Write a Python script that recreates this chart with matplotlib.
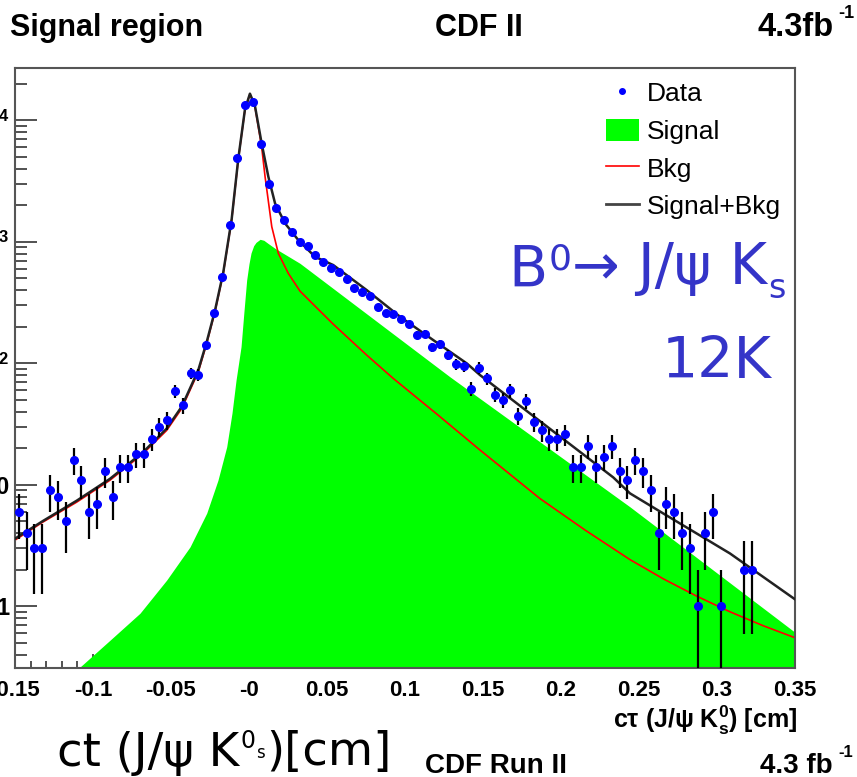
import numpy as np
import matplotlib.pyplot as plt
from matplotlib.lines import Line2D
from matplotlib.patches import Patch
from matplotlib.ticker import FixedLocator, FixedFormatter, LogLocator, NullFormatter, MultipleLocator

plt.rcParams['font.family'] = ['Liberation Sans', 'DejaVu Sans']
plt.rcParams['mathtext.default'] = 'regular'

W, H = 857, 777

# proper decay length histogram: 100 bins of 50 um between -0.15 and 0.35 cm
ct_lo, ct_hi, n_bins = -0.15, 0.35, 100
counts = np.array([
    6, 4, 3, 3, 9, 8, 5, 16, 11, 6,
    7, 13, 8, 14, 14, 18, 18, 24, 30, 34,
    59, 45, 83, 80, 141, 258, 516, 1375, 4930, 13300,
    14180, 6360, 2980, 1890, 1513, 1212, 995, 929, 773, 678,
    612, 567, 491, 414, 388, 358, 292, 261, 253, 230,
    209, 171, 174, 135, 143, 118, 98, 95, 62, 92,
    75, 55, 50, 60, 37, 49, 33, 28, 24, 24,
    26, 14, 14, 21, 14, 17, 21, 13, 11, 16,
    13, 9, 4, 7, 6, 4, 3, 1, 4, 6,
    1, 0, 0, 2, 2, 0, 0, 0, 0, 0,
])

# fit components sampled along the drawn curves
sig_ct = [-0.1094, -0.0891, -0.0699, -0.0528, -0.0378, -0.0271, -0.0199, -0.0143,
          -0.0109, -0.0083, -0.0051, -0.0032, -0.0015, 0.0000, 0.0013, 0.0030,
          0.0045, 0.0071, 0.0095, 0.0120, 0.0167, 0.0327, 0.1288, 0.2442, 0.35]
sig_val = [0.307, 0.525, 0.875, 1.64, 3.08, 5.84, 10.9, 20.5,
           38.9, 72.7, 137, 270, 484, 660, 809, 930,
           990, 1049, 1030, 975, 884, 665, 77.4, 6.58, 0.61]

bkg_ct = [-0.15, -0.1319, -0.1104, -0.0891, -0.0678, -0.0528, -0.0431, -0.0325,
          -0.0271, -0.0218, -0.0165, -0.0111, -0.0069, -0.0026, 0.0006, 0.0038,
          0.0081, 0.0103, 0.0146, 0.0188, 0.0252, 0.0327, 0.0423, 0.0540,
          0.0754, 0.0925, 0.1203, 0.1481, 0.1865, 0.2154, 0.2442, 0.2656,
          0.2870, 0.3083, 0.3297, 0.35]
bkg_val = [3.5, 4.95, 7.2, 10.9, 18.1, 28, 42.5, 85,
           146, 266, 550, 1513, 4720, 12190, 16500, 12970,
           6070, 3440, 1332, 804, 550, 393, 296, 210,
           117, 75, 38.3, 19.3, 7.7, 4.24, 2.42, 1.68,
           1.21, 0.90, 0.69, 0.55]

tot_ct = [-0.15, -0.1319, -0.1104, -0.0891, -0.0678, -0.0528, -0.0431, -0.0325,
          -0.0271, -0.0218, -0.0165, -0.0111, -0.0069, -0.0026, 0.0006, 0.0038,
          0.0081, 0.0124, 0.0167, 0.0231, 0.0316, 0.0423, 0.0540, 0.0754,
          0.0968, 0.1182, 0.1396, 0.1481, 0.1908, 0.2335, 0.2442, 0.2656,
          0.2870, 0.3083, 0.3297, 0.35]
tot_val = [3.6, 5.05, 7.4, 11.2, 18.6, 29, 44, 88,
           150, 272, 560, 1540, 4800, 12300, 16600, 13190,
           6470, 3440, 2075, 1420, 1035, 754, 644, 401,
           242, 155, 99.8, 80, 30.3, 11.5, 8.5, 5.8,
           3.97, 2.72, 1.74, 1.14]

xtick_pos = [-0.15, -0.1, -0.05, 0.0, 0.05, 0.1, 0.15, 0.2, 0.25, 0.3, 0.35]
xtick_lab = ['-0.15', '-0.1', '-0.05', '-0', '0.05', '0.1', '0.15', '0.2', '0.25', '0.3', '0.35']
ytick_pos = [1, 10, 100, 1000, 10000]
ytick_lab = ['1', '10', '$10^{2}$', '$10^{3}$', '$10^{4}$']

legend_labels = ['Data', 'Signal', 'Bkg', 'Signal+Bkg']

BLUE_DOT = '#0000ff'
GREEN = '#00ff00'
RED = '#ff0000'
ANNOT = '#3434c8'
FRAME = '#555555'


def fx(px):
    return px / W


def fy(py):
    return 1 - py / H


fig = plt.figure(figsize=(W / 100, H / 100), dpi=100)
ax = fig.add_axes([fx(15), fy(668), (795 - 15) / W, (668 - 68) / H])

edges = np.linspace(ct_lo, ct_hi, n_bins + 1)
centres = 0.5 * (edges[:-1] + edges[1:])
keep = counts > 0
n = counts[keep].astype(float)
err_up = np.sqrt(n)
err_lo = np.minimum(np.sqrt(n), n * 0.999)

ax.fill_between(sig_ct, sig_val, 1e-3, color=GREEN, lw=0, zorder=1)
ax.plot(bkg_ct, bkg_val, color=RED, lw=1.2, zorder=2)
ax.plot(tot_ct, tot_val, color='#222222', lw=1.8, zorder=3)
ax.errorbar(centres[keep], n, yerr=[err_lo, err_up], fmt='o', ms=5.5,
            mfc=BLUE_DOT, mec=BLUE_DOT, ecolor='black', elinewidth=1.6,
            capsize=0, zorder=4)

ax.set_yscale('log')
ax.set_xlim(ct_lo, ct_hi)
ax.set_ylim(0.31, 27000)
ax.set_axisbelow(True)

ax.xaxis.set_major_locator(FixedLocator(xtick_pos))
ax.xaxis.set_major_formatter(FixedFormatter(xtick_lab))
ax.xaxis.set_minor_locator(MultipleLocator(0.01))
ax.yaxis.set_major_locator(FixedLocator(ytick_pos))
ax.yaxis.set_major_formatter(FixedFormatter(ytick_lab))
ax.yaxis.set_minor_locator(LogLocator(base=10, subs=np.arange(2, 10)))
ax.yaxis.set_minor_formatter(NullFormatter())

ax.tick_params(axis='both', which='both', direction='in', colors='#333333', width=1.2)
ax.tick_params(axis='y', which='major', length=16, pad=4, labelsize=17)
ax.tick_params(axis='y', which='minor', length=8.5)
ax.tick_params(axis='x', which='major', length=10, pad=9, labelsize=16)
ax.tick_params(axis='x', which='minor', length=5)
for lab in ax.get_xticklabels() + ax.get_yticklabels():
    lab.set_fontweight('bold')
    lab.set_color('black')

for side in ['left', 'right', 'top', 'bottom']:
    ax.spines[side].set_color(FRAME)
    ax.spines[side].set_linewidth(1.5)

handles = [
    Line2D([], [], ls='none', marker='o', ms=4, color=BLUE_DOT),
    Patch(facecolor=GREEN, edgecolor='none'),
    Line2D([], [], color=RED, lw=1.2),
    Line2D([], [], color='#444444', lw=2),
]
fig.legend(handles, legend_labels, loc='upper left', bbox_to_anchor=(fx(606), fy(81)),
           frameon=False, fontsize=19, handlelength=1.25, handleheight=0.9,
           handletextpad=0.3, labelspacing=0.48, borderpad=0, borderaxespad=0)

# header line
fig.text(fx(10), fy(36), 'Signal region', fontsize=22, fontweight='bold', va='baseline')
fig.text(fx(435), fy(36), 'CDF II', fontsize=22, fontweight='bold', va='baseline')
fig.text(fx(757), fy(36), '4.3fb', fontsize=23.5, fontweight='bold', va='baseline')
fig.text(fx(838), fy(18), '-1', fontsize=13, fontweight='bold', va='baseline')

# axis title
fig.text(fx(797), fy(728), 'c\u03c4 (J/\u03c8 K$^{0}_{s}$) [cm]', fontsize=18,
         fontweight='bold', ha='right', va='baseline')

# pieces of a text line hang off the bottom-right corner of the previous piece
chain = dict(family='DejaVu Sans', va='baseline', annotation_clip=False,
             textcoords='offset points', xy=(1, 0))

# decay channel annotation
dec_b = fig.text(fx(508), fy(287), 'B', family='DejaVu Sans', fontsize=41,
                 color=ANNOT, va='baseline')
dec_0 = ax.annotate('0', xycoords=dec_b, xytext=(1, 21.5), fontsize=26, color=ANNOT, **chain)
dec_k = ax.annotate('\u2192 J/\u03c8 K', xycoords=dec_0, xytext=(0, -5.8), fontsize=41,
                    color=ANNOT, **chain)
ax.annotate('s', xycoords=dec_k, xytext=(1, -1.2), fontsize=24, color=ANNOT, **chain)
fig.text(fx(662), fy(378), '12K', family='DejaVu Sans', fontsize=41, color=ANNOT, va='baseline')

# footer
foot = fig.text(fx(57), fy(766), 'ct (J/\u03c8 K', family='DejaVu Sans', fontsize=33.5,
                va='baseline')
sup0 = ax.annotate('0', xycoords=foot, xytext=(1, 20.5), fontsize=17, **chain)
sub_s = ax.annotate('s', xycoords=sup0, xytext=(0, -4), fontsize=12, **chain)
ax.annotate(')[cm]', xycoords=sub_s, xytext=(1, -2.2), fontsize=33.5, **chain)
fig.text(fx(425), fy(773), 'CDF Run II', fontsize=20, fontweight='bold', va='baseline')
fig.text(fx(760), fy(773), '4.3 fb', fontsize=20, fontweight='bold', va='baseline')
fig.text(fx(838), fy(757), '-1', fontsize=12, fontweight='bold', va='baseline')

fig.savefig('out.png', dpi=100)
